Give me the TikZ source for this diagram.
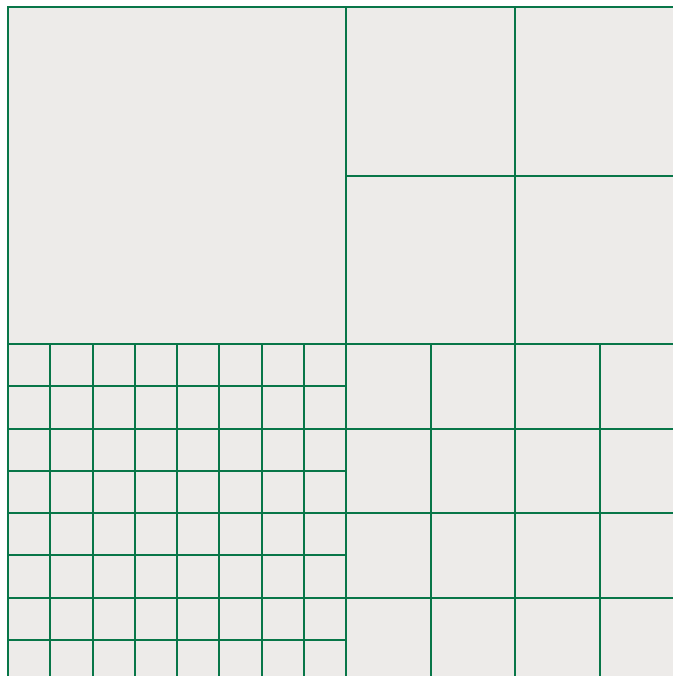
\documentclass[tikz,border=0pt]{standalone}
\definecolor{gridgreen}{RGB}{8,118,72}
\definecolor{bggray}{RGB}{237,235,233}
\begin{document}
\begin{tikzpicture}[x=1bp,y=-1bp,gridline/.style={draw=gridgreen,line width=2bp}]
\useasboundingbox (0,0) rectangle (673,676);
\clip (0,0) rectangle (673,676);
\fill[bggray] (8,7) rectangle (680,690);
% top-left big square and top edge
\draw[gridline] (8,680) -- (8,7) -- (680,7);
\draw[gridline] (346,7) -- (346,690);
\draw[gridline] (8,344) -- (680,344);
% top-right 2x2
\draw[gridline] (515,7) -- (515,344);
\draw[gridline] (346,176) -- (680,176);
% bottom-left 8x8
\foreach \i in {1,...,7} {
  \draw[gridline] ({8+42.25*\i},344) -- ({8+42.25*\i},690);
  \draw[gridline] (8,{344+42.25*\i}) -- (346,{344+42.25*\i});
}
% bottom-right 4x4
\foreach \k in {1,2,3} {
  \draw[gridline] ({346+84.5*\k},344) -- ({346+84.5*\k},690);
  \draw[gridline] (346,{344+84.5*\k}) -- (680,{344+84.5*\k});
}
\end{tikzpicture}
\end{document}
